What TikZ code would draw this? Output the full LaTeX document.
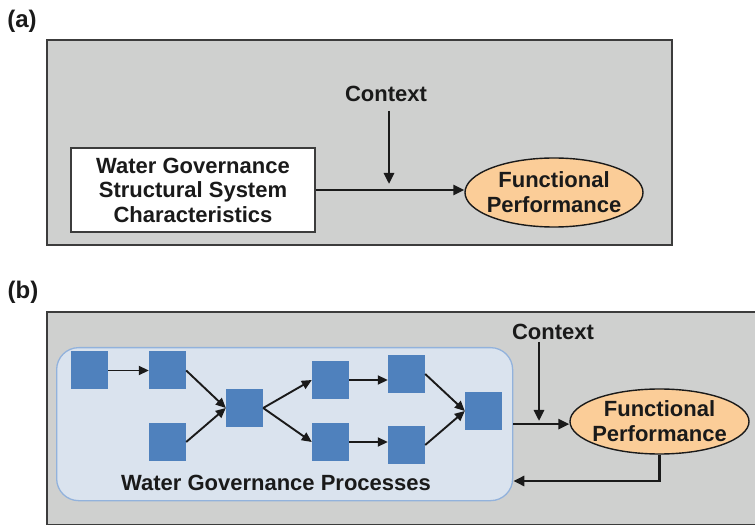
\documentclass[tikz,border=0pt]{standalone}
\usepackage{fontspec}
\setmainfont{Liberation Sans}
\usetikzlibrary{arrows.meta,shapes.geometric}
\definecolor{panelgrey}{HTML}{CFD0CF}
\definecolor{panelline}{HTML}{3C3C3C}
\definecolor{ink}{HTML}{1A1A1A}
\definecolor{perforange}{HTML}{FBCD98}
\definecolor{stepblue}{HTML}{4F81BD}
\definecolor{procfill}{HTML}{DAE3EE}
\definecolor{procline}{HTML}{92B2DC}
\tikzset{
  panelbox/.style={draw=panelline, fill=panelgrey, line width=1.6pt},
  tag/.style={font=\bfseries\fontsize{24}{26}\selectfont, text=ink, inner sep=0pt},
  label/.style={font=\bfseries\fontsize{22}{25}\selectfont, text=ink, inner sep=0pt, align=center},
  sysbox/.style={draw=panelline, fill=white, line width=1.6pt, minimum width=244pt,
    minimum height=84pt, inner sep=0pt, align=center,
    font=\bfseries\fontsize{22}{24.5}\selectfont, text=ink},
  perf/.style={ellipse, draw=ink, fill=perforange, line width=1.4pt, inner sep=0pt},
  perftext/.style={label, font=\bfseries\fontsize{22}{25}\selectfont},
  procbox/.style={draw=procline, fill=procfill, line width=1.3pt, rounded corners=22pt,
    minimum width=456pt, minimum height=153pt, inner sep=0pt, anchor=north west},
  stepsq/.style={fill=stepblue, minimum width=37pt, minimum height=38pt, inner sep=0pt},
  bigarrow/.style={draw=ink, line width=2.6pt, -{Triangle[length=11pt,width=10pt]}},
  smallarrow/.style={draw=ink, line width=1.9pt, -{Triangle[length=10pt,width=9pt]}}
}
\begin{document}
\begin{tikzpicture}[x=1pt,y=-1pt]
\useasboundingbox (0,0) rectangle (755,526);

% ---------- panel (a) ----------
\node[tag] (taga) at (22,21) {(a)};
\draw[panelbox] (47,40) rectangle (672,245);
\node[sysbox] (wgs) at (193,190) {Water Governance\\Structural System\\Characteristics};
\node[perf, minimum width=178pt, minimum height=69pt] (fpa) at (554,192.5) {};
\node[perftext] (fpat) at (fpa.center) {Functional\\Performance};
\node[label] (ctxa) at (386,94) {Context};
\coordinate (ja) at (389,184);
\draw[bigarrow] (wgs.east) -- (wgs.east -| fpa.west);
\draw[bigarrow] (ja |- ctxa.south) ++(0,9) -- (ja);

% ---------- panel (b) ----------
\node[tag] (tagb) at (23,292) {(b)};
\draw[panelbox] (47,312) rectangle (770,524.5);
\node[procbox] (wgp) at (56,347) {};
\node[label] (wgpt) at (276,483) {Water Governance Processes};

\node[stepsq] (s1) at (89.5,370.5) {};
\node[stepsq] (s2) at (167.5,370.5) {};
\node[stepsq] (s3) at (167.5,442) {};
\node[stepsq] (s4) at (244.5,408) {};
\node[stepsq] (s5) at (330.5,380) {};
\node[stepsq] (s6) at (330.5,442) {};
\node[stepsq] (s7) at (406.5,374) {};
\node[stepsq] (s8) at (406.5,445) {};
\node[stepsq] (s9) at (483.5,411) {};

\draw[smallarrow] (s1.east) -- (s2.west);
\draw[smallarrow] (s2.east) -- (s4.west);
\draw[smallarrow] (s3.east) -- (s4.west);
\draw[smallarrow] (s4.east) -- (s5.west);
\draw[smallarrow] (s4.east) -- (s6.west);
\draw[smallarrow] (s5.east) -- (s5.east -| s7.west);
\draw[smallarrow] (s6.east) -- (s6.east -| s8.west);
\draw[smallarrow] (s7.east) -- (s9.west);
\draw[smallarrow] (s8.east) -- (s9.west);

\node[perf, minimum width=179pt, minimum height=65pt] (fpb) at (659.5,421.5) {};
\node[perftext] (fpbt) at (fpb.center) {Functional\\Performance};
\node[label] (ctxb) at (553,332) {Context};
\coordinate (jb) at (539,421);
\coordinate (fb) at (600,481);
\draw[bigarrow] (wgp.east) -- (wgp.east -| fpb.west);
\draw[bigarrow] (jb |- ctxb.south) ++(0,2) -- (jb);
\draw[bigarrow] (fpb.south) |- (wgp.east |- fb);
\end{tikzpicture}
\end{document}
